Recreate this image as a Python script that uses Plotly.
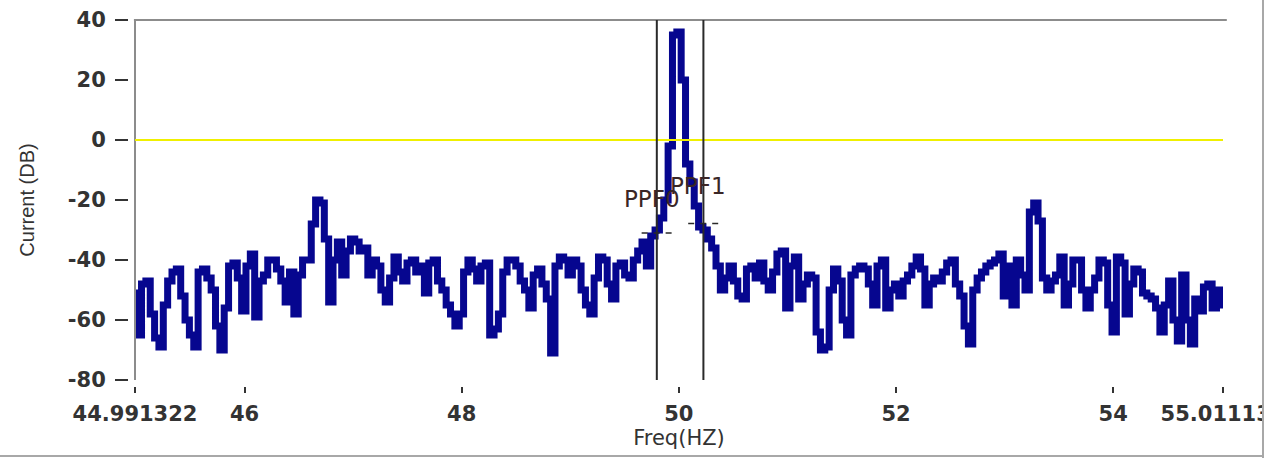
import numpy as np
import plotly.graph_objects as go

# ---------------- data ----------------
F_START = 44.991322
F_END = 55.011134

seg_45 = [-51, -65, -48, -47, -58, -66, -69, -55, -47, -44, -43, -52, -60, -65, -69,
          -44, -43, -46, -50, -62, -70, -56, -42, -41, -46]
seg_46 = [-57, -42, -38, -59, -47, -45, -40, -40, -43, -47, -54, -44, -58, -45, -40,
          -40, -28, -20, -21, -33, -54, -40, -34, -45, -37]
seg_47 = [-33, -34, -37, -36, -45, -40, -42, -50, -54, -46, -39, -44, -47, -41, -40,
          -44, -42, -51, -41, -40, -47, -50, -55, -58, -62]
seg_48 = [-58, -44, -40, -43, -47, -42, -41, -65, -63, -58, -44, -40, -40, -42, -47,
          -50, -56, -45, -43, -48, -53, -71, -42, -39, -40]
seg_49 = [-45, -40, -42, -50, -55, -58, -46, -39, -40, -48, -53, -42, -41, -45, -46,
          -40, -37, -34, -42, -32, -30, -26, -20, -2, 35]
seg_peak = [36, 20, -8, -14, -22, -29]
seg_right = [-30, -33, -36, -42, -50, -46, -42, -47, -52, -53, -43, -42, -46, -41, -47,
             -50, -44, -38, -37, -56, -42, -39, -53, -48, -45, -46, -64, -70, -69, -50,
             -43, -47, -60, -65, -45, -43, -42, -43, -48, -55, -42, -40, -56, -50, -48,
             -52, -47, -45, -42, -39, -43, -55, -48, -46, -47, -44, -41, -40, -48, -52,
             -62, -68, -50, -46, -44, -42, -41, -40, -38, -52, -42, -55, -40, -45, -50,
             -24, -21, -27, -46, -50, -47, -45, -39, -55, -48, -40, -40, -50, -56, -50,
             -46, -40, -41, -55, -64, -39, -41, -58, -48, -43, -44, -51, -52, -53, -56,
             -64, -55, -47, -60, -67, -45, -60, -68, -53, -57, -49, -48, -56, -50, -55]

current_db = seg_45 + seg_46 + seg_47 + seg_48 + seg_49 + seg_peak + seg_right
freq_hz = np.linspace(F_START, F_END, len(current_db))  # uniform FFT bins

y_tickvals = [-80, -60, -40, -20, 0, 20, 40]
y_ticktext = ["-80", "-60", "-40", "-20", "0", "20", "40"]
x_tickvals = [F_START, 46, 48, 50, 52, 54, F_END]
x_ticktext = ["44.991322", "46", "48", "50", "52", "54", "55.011134"]

cursor_names = ["PPF0", "PPF1"]
cursor_freq = [49.797, 50.226]
cursor_level = [-31.0, -27.8]
label_level = [-19.7, -15.3]
ref_level = 0

# ---------------- layout geometry ----------------
W, H = 1269, 458
PLOT_L, PLOT_R, PLOT_T, PLOT_B = 135, 1223, 20, 380
PAPER_L, PAPER_B = 128, 386
paper_w = W - PAPER_L - (W - PLOT_R)
paper_h = H - PLOT_T - (H - PAPER_B)


def px_to_paper_x(px):
    return (px - PAPER_L) / paper_w


def py_to_paper_y(py):
    return (PAPER_B - py) / paper_h


TEXT = "#333333"
tick_font = dict(family="DejaVu Sans", size=21, color=TEXT, weight="bold")

fig = go.Figure()
fig.add_trace(go.Scatter(
    x=freq_hz, y=current_db, mode="lines",
    line=dict(color="#06068f", width=7, shape="hvh"),
    hoverinfo="skip", showlegend=False,
))

shapes = []
# left axis line and top frame line
shapes.append(dict(type="line", xref="x domain", yref="y domain", x0=0, x1=0, y0=0, y1=1,
                   line=dict(color="#8c8c8c", width=2), layer="above"))
shapes.append(dict(type="line", xref="x domain", yref="y domain", x0=-0.001, x1=1.0035, y0=1, y1=1,
                   line=dict(color="#8c8c8c", width=2), layer="above"))
# yellow reference level
shapes.append(dict(type="line", xref="x", yref="y", x0=F_START, x1=F_END, y0=ref_level, y1=ref_level,
                   line=dict(color="#f0f000", width=2), layer="above"))
# cursors
for f, lv in zip(cursor_freq, cursor_level):
    shapes.append(dict(type="line", xref="x", yref="y domain", x0=f, x1=f, y0=0, y1=1,
                       line=dict(color="#2a2a2a", width=2), layer="above"))
    shapes.append(dict(type="line", xref="x", yref="y", x0=f - 0.14, x1=f + 0.15, y0=lv, y1=lv,
                       line=dict(color="#2a2a2a", width=1.5, dash="6px,6px"), layer="above"))
# outer window frame (right and bottom) with clipping strip
shapes.append(dict(type="rect", xref="paper", yref="paper",
                   x0=px_to_paper_x(1264), x1=px_to_paper_x(W + 2),
                   y0=py_to_paper_y(H + 2), y1=py_to_paper_y(-2),
                   fillcolor="white", line=dict(width=0), layer="above"))
shapes.append(dict(type="line", xref="paper", yref="paper",
                   x0=px_to_paper_x(1263), x1=px_to_paper_x(1263),
                   y0=py_to_paper_y(H), y1=py_to_paper_y(0),
                   line=dict(color="#a8a8a8", width=2), layer="above"))
shapes.append(dict(type="line", xref="paper", yref="paper",
                   x0=px_to_paper_x(0), x1=px_to_paper_x(1264),
                   y0=py_to_paper_y(456), y1=py_to_paper_y(456),
                   line=dict(color="#a8a8a8", width=2), layer="above"))

annotations = []
for name, f, lv in zip(cursor_names, cursor_freq, label_level):
    annotations.append(dict(x=f, y=lv, xref="x", yref="y", text=name, showarrow=False,
                            xanchor="center", yanchor="middle", xshift=-5,
                            font=dict(family="DejaVu Sans", size=23, color="#3a2626")))

fig.update_layout(
    width=W, height=H,
    margin=dict(l=PAPER_L, r=W - PLOT_R, t=PLOT_T, b=H - PAPER_B, pad=0),
    paper_bgcolor="white", plot_bgcolor="white",
    shapes=shapes, annotations=annotations, showlegend=False,
    xaxis=dict(
        range=[F_START, F_END], domain=[px_to_paper_x(PLOT_L), 1],
        anchor="free", position=0, automargin=False,
        showline=False, showgrid=False, zeroline=False,
        ticks="outside", ticklen=6, tickwidth=2, tickcolor=TEXT,
        tickvals=x_tickvals, ticktext=x_ticktext, tickfont=tick_font,
        ticklabelstandoff=3, ticklabeloverflow="allow",
        title=dict(text="Freq(HZ)", standoff=4,
                   font=dict(family="DejaVu Sans", size=21, color=TEXT)),
    ),
    yaxis=dict(
        range=[-80, 40], domain=[py_to_paper_y(PLOT_B), 1],
        anchor="free", position=0, automargin=False,
        showline=False, showgrid=False, zeroline=False,
        ticks="outside", ticklen=13, tickwidth=2, tickcolor=TEXT,
        tickvals=y_tickvals, ticktext=y_ticktext, tickfont=tick_font,
        ticklabelstandoff=5, ticklabeloverflow="allow",
        title=dict(text="Current (DB)", standoff=26,
                   font=dict(family="Liberation Sans", size=20, color=TEXT)),
    ),
)

fig.write_html("out.html", config={"displayModeBar": False, "staticPlot": True},
               post_script="document.body.style.margin='0';document.body.style.overflow='hidden';")
